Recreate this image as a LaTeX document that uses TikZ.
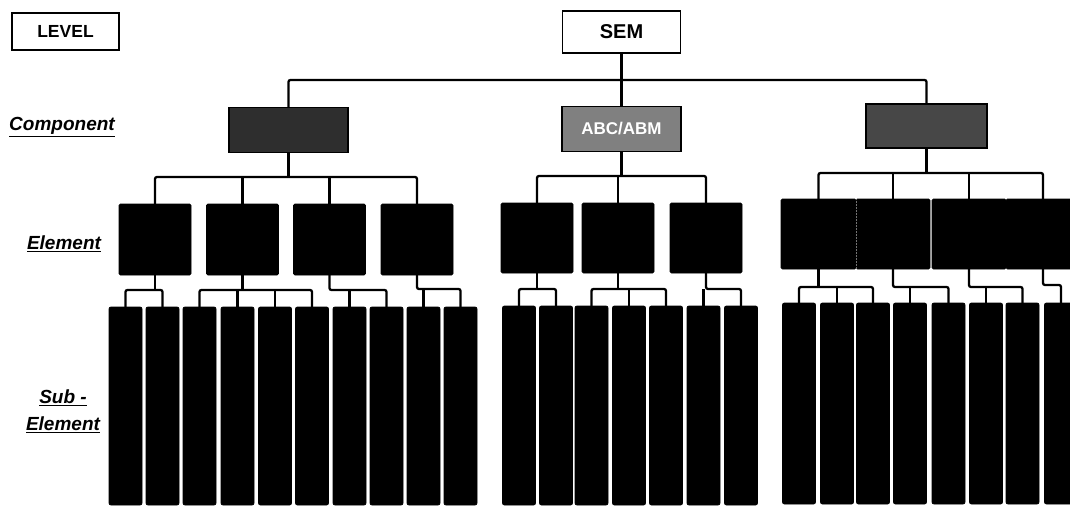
\documentclass[tikz,border=0pt]{standalone}
\usepackage{fontspec}
\setmainfont{Liberation Sans}
\begin{document}
\begin{tikzpicture}[x=1pt,y=-1pt,
  conn/.style={line width=2.3pt,rounded corners=2pt},
  whitebox/.style={draw,line width=1.7pt,fill=white,inner sep=0pt,outer sep=0pt},
  compbox/.style={draw=black,line width=1.7pt,inner sep=0pt,outer sep=0pt,minimum width=119pt,minimum height=45pt},
  elembox/.style={draw=black,fill=black,line width=0.8pt,rounded corners=1.5pt,inner sep=0pt,outer sep=0pt,minimum width=72pt},
  subbox/.style={draw=black,fill=black,line width=0.8pt,rounded corners=2pt,inner sep=0pt,outer sep=0pt,minimum width=33pt},
  lvl/.style={font=\fontsize{19}{27}\selectfont\bfseries\itshape,align=center,inner sep=0pt}]
\useasboundingbox (0,0) rectangle (1070,508);
\clip (0,0) rectangle (1070,508);

% headers
\node[whitebox,minimum width=107pt,minimum height=37pt,font=\fontsize{17.5}{20}\selectfont\bfseries] (level) at (65.5,31.5) {LEVEL};
\node[whitebox,minimum width=118pt,minimum height=42pt,font=\fontsize{20}{24}\selectfont\bfseries] (sem) at (621.5,32) {SEM};

% level labels
\node[lvl] (lcomp) at (62,127) {\underline{Component}};
\node[lvl] (lelem) at (64,244) {\underline{Element}};
\node[lvl] (lsub) at (63,411) {\underline{Sub -}\\\underline{Element}};

% components
\node[compbox,fill=black!82] (c1) at (288.5,130) {};
\node[compbox,fill=black!50,text=white,font=\fontsize{17}{20}\selectfont\bfseries] (c2) at (621.5,129) {ABC/ABM};
\node[compbox,fill=black!72,minimum width=121pt,minimum height=44pt] (c3) at (926.5,126) {};

% elements
\node[elembox,minimum height=71pt] (e1) at (155,239.5) {};
\node[elembox,minimum height=71pt] (e2) at (242.5,239.5) {};
\node[elembox,minimum height=71pt] (e3) at (329.5,239.5) {};
\node[elembox,minimum height=71pt] (e4) at (417,239.5) {};
\node[elembox,minimum height=70pt] (e5) at (537,238) {};
\node[elembox,minimum height=70pt] (e6) at (618,238) {};
\node[elembox,minimum height=70pt] (e7) at (706,238) {};
\node[elembox,minimum height=70pt,minimum width=75pt] (e8) at (818.5,234) {};
\node[elembox,minimum height=70pt,minimum width=74pt] (e9) at (893,234) {};
\node[elembox,minimum height=70pt,minimum width=74pt] (e10) at (969,234) {};
\node[elembox,minimum height=70pt,minimum width=74pt] (e11) at (1043,234) {};
\draw[black!55,line width=0.5pt,densely dotted] (e8.north east) -- (e8.south east);

% sub-elements
\foreach \n/\x in {1/125.5,2/162.5,3/199.5,4/237.5,5/275,6/312,7/349.5,8/386.5,9/423.5,10/460.5}
  \node[subbox,minimum height=198pt] (s\n) at (\x,406) {};
\foreach \n/\x in {11/519,12/556,13/591.5,14/629,15/666,16/703.5,17/741}
  \node[subbox,minimum height=199pt] (s\n) at (\x,405.5) {};
\foreach \n/\x in {18/799,19/837,20/873,21/910,22/948.5,23/986,24/1022.5,25/1061}
  \node[subbox,minimum height=201pt] (s\n) at (\x,403.5) {};

% SEM -> components
\draw[conn] (sem.south) -- (c2.north);
\draw[conn] (c1.north) |- (c3.north |- 0,80) -- (c3.north);

% components -> elements
\draw[conn] (c1.south) -- (c1.south |- 0,177);
\draw[conn] (e1.north) |- (e4.north |- 0,177) -- (e4.north);
\draw[conn] (e2.north) -- (e2.north |- 0,177);
\draw[conn] (e3.north) -- (e3.north |- 0,177);

\draw[conn] (c2.south) -- (c2.south |- 0,176);
\draw[conn] (e5.north) |- (e7.north |- 0,176) -- (e7.north);
\draw[conn] (e6.north) -- (e6.north |- 0,176);

\draw[conn] (c3.south) -- (c3.south |- 0,173);
\draw[conn] (e8.north) |- (e11.north |- 0,173) -- (e11.north);
\draw[conn] (e9.north) -- (e9.north |- 0,173);
\draw[conn] (e10.north) -- (e10.north |- 0,173);

% elements -> sub-elements, group 1
\draw[conn] (e1.south) -- (e1.south |- 0,290);
\draw[conn] (s1.north) |- (s2.north |- 0,290) -- (s2.north);
\draw[conn] (e2.south) -- (e2.south |- 0,290);
\draw[conn] (s3.north) |- (s6.north |- 0,290) -- (s6.north);
\draw[conn] (s4.north) -- (s4.north |- 0,290);
\draw[conn] (s5.north) -- (s5.north |- 0,290);
\draw[conn] (e3.south) |- (s8.north |- 0,290) -- (s8.north);
\draw[conn] (s7.north) -- (s7.north |- 0,290);
\draw[conn] (e4.south) |- (s10.north |- 0,289) -- (s10.north);
\draw[conn] (s9.north) -- (s9.north |- 0,289);

% group 2
\draw[conn] (e5.south) -- (e5.south |- 0,289);
\draw[conn] (s11.north) |- (s12.north |- 0,289) -- (s12.north);
\draw[conn] (e6.south) -- (e6.south |- 0,289);
\draw[conn] (s13.north) |- (s15.north |- 0,289) -- (s15.north);
\draw[conn] (s14.north) -- (s14.north |- 0,289);
\draw[conn] (e7.south) |- (s17.north |- 0,289) -- (s17.north);
\draw[conn] (s16.north) -- (s16.north |- 0,289);

% group 3
\draw[conn] (e8.south) -- (e8.south |- 0,287);
\draw[conn] (s18.north) |- (s20.north |- 0,287) -- (s20.north);
\draw[conn] (s19.north) -- (s19.north |- 0,287);
\draw[conn] (e9.south) |- (s22.north |- 0,287) -- (s22.north);
\draw[conn] (s21.north) -- (s21.north |- 0,287);
\draw[conn] (e10.south) |- (s24.north |- 0,287) -- (s24.north);
\draw[conn] (s23.north) -- (s23.north |- 0,287);
\draw[conn] (e11.south) |- (s25.north |- 0,285) -- (s25.north);
\end{tikzpicture}
\end{document}
